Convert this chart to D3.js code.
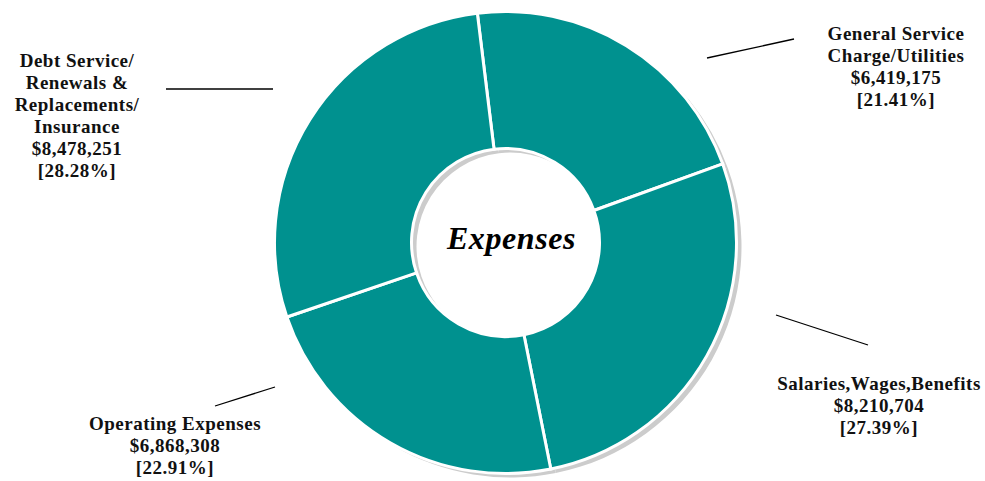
<!DOCTYPE html>
<html>
<head>
<meta charset="utf-8">
<script src="https://cdn.jsdelivr.net/npm/d3@7"></script>
<style>
  body { margin: 0; background: #fff; }
  svg { display: block; }
  .lbl { font-family: "Liberation Serif", serif; font-weight: bold; font-size: 19px; letter-spacing: 0.5px; fill: #111; }
</style>
</head>
<body>
<script>
// data
const categories = ["General Service Charge/Utilities", "Salaries,Wages,Benefits", "Operating Expenses", "Debt Service/Renewals & Replacements/Insurance"];
const amounts = [6419175, 8210704, 6868308, 8478251];
const percents = ["21.41%", "27.39%", "22.91%", "28.28%"];
const labelLines = [
  ["General Service", "Charge/Utilities"],
  ["Salaries,Wages,Benefits"],
  ["Operating Expenses"],
  ["Debt Service/", "Renewals &", "Replacements/", "Insurance"]
];

// layout for labels + leader lines
const labelLayout = [
  { x: 896, y: 40, line: [[707, 58], [794, 39]] },
  { x: 879, y: 390, line: [[776, 315], [868, 345]] },
  { x: 175, y: 430, line: [[215, 406], [275, 387]] },
  { x: 77, y: 67, line: [[166, 89], [273, 89]] }
];

const width = 985, height = 481;
const cx = 505.5, cy = 242.5, outerR = 231, innerR = 94;
const teal = "#00918f";

let svg = d3.select("body").append("svg")
    .attr("width", width)
    .attr("height", height);

let pie = d3.pie().sort(null)
    .startAngle(-7 * Math.PI / 180)
    .endAngle(2 * Math.PI - 7 * Math.PI / 180);
let arc = d3.arc().innerRadius(innerR).outerRadius(outerR);
let arcs = pie(amounts);

// shadow ring
svg.append("g")
    .attr("transform", `translate(${cx + 5}, ${cy + 4})`)
    .selectAll("path")
    .data(arcs)
    .enter().append("path")
    .attr("d", arc)
    .style("fill", "#cccccc");

let g = svg.append("g").attr("transform", `translate(${cx}, ${cy})`);

g.selectAll("path")
    .data(arcs)
    .enter().append("path")
    .attr("d", arc)
    .style("fill", teal)
    .style("stroke", "#fff")
    .style("stroke-width", 3);

g.append("text")
    .attr("x", 6)
    .attr("y", 6)
    .attr("text-anchor", "middle")
    .style("font-family", "Liberation Serif, serif")
    .style("font-style", "italic")
    .style("font-weight", "bold")
    .style("font-size", "32px")
    .style("letter-spacing", "0.6px")
    .text("Expenses");

// labels
const fmt = d3.format("$,");
labelLayout.forEach((L, i) => {
    svg.append("line")
        .attr("x1", L.line[0][0]).attr("y1", L.line[0][1])
        .attr("x2", L.line[1][0]).attr("y2", L.line[1][1])
        .style("stroke", "#000")
        .style("stroke-width", 1.3);

    let lines = labelLines[i].concat([fmt(amounts[i]), `[${percents[i]}]`]);
    let t = svg.append("text")
        .attr("class", "lbl")
        .attr("text-anchor", "middle");
    lines.forEach((s, j) => {
        t.append("tspan")
            .attr("x", L.x)
            .attr("y", L.y + j * 22)
            .text(s);
    });
});
</script>
</body>
</html>
